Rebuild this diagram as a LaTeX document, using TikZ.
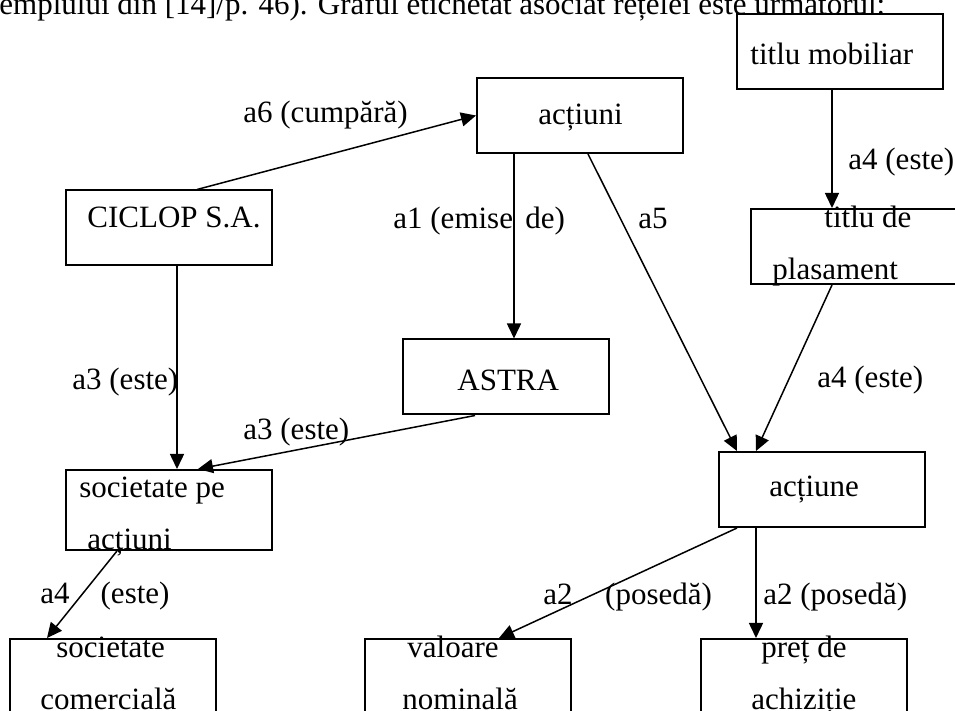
\documentclass[tikz,border=0pt]{standalone}
\usepackage{fontspec}
\setmainfont{Liberation Serif}
\usetikzlibrary{arrows.meta,calc}

\begin{document}
\begin{tikzpicture}[x=0.5pt,y=-0.5pt,
  box/.style={draw=black,line width=1pt,minimum width=103pt,minimum height=37.5pt,inner sep=0pt},
  txt/.style={anchor=base west,inner sep=0pt,font=\fontsize{15.5}{18}\selectfont},
  arc/.style={draw=black,line width=0.75pt,-{Triangle[length=7.5pt,width=7pt]}}]
\useasboundingbox (0,0) rectangle (955,711);
\clip (0,0) rectangle (955,711);
\node[txt] (antet) at (-1,15) {emplului din [14]/p. 46). Graful etichetat asociat rețelei este următorul:};
% casete
\node[box] (mob) at (840,51.5) {};
\node[box] (actiuni) at (580,115.5) {};
\node[box] (ciclop) at (169,228) {};
\node[box] (plas) at (854,246.5) {};
\node[box] (astra) at (506,377) {};
\node[box] (actiune) at (822,489.5) {};
\node[box,minimum height=40pt] (spa) at (169,510) {};
\node[box] (sc) at (113,676.5) {};
\node[box] (vn) at (468,676.5) {};
\node[box] (pa) at (804,676.5) {};
% texte din casete
\node[txt] (tmob) at (750,65) {titlu mobiliar};
\node[txt] (tactiuni) at (538,125) {acțiuni};
\node[txt] (tciclop) at (87,228) {CICLOP S.A.};
\node[txt] (tplas1) at (824,228) {titlu de};
\node[txt] (tplas2) at (772,280) {plasament};
\node[txt] (tastra) at (457,391) {ASTRA};
\node[txt] (tactiune) at (769,497) {acțiune};
\node[txt] (tspa1) at (79,498) {societate pe};
\node[txt] (tspa2) at (87,550) {acțiuni};
\node[txt] (tsc1) at (56,658) {societate};
\node[txt] (tsc2) at (40,710) {comercială};
\node[txt] (tvn1) at (407,658) {valoare};
\node[txt] (tvn2) at (402,710) {nominală};
\node[txt] (tpa1) at (761,658) {preț de};
\node[txt] (tpa2) at (751,710) {achiziție};
% arce
\draw[arc] ($(ciclop.north west)+(132,0)$) -- (actiuni.west);
\draw[arc] ($(actiuni.south west)+(38,0)$) -- ($(astra.north west)+(112,0)$);
\draw[arc] ($(actiuni.south west)+(112,0)$) -- ($(actiune.north west)+(19,0)$);
\draw[arc] ($(mob.south west)+(96,0)$) -- ($(plas.north west)+(82,0)$);
\draw[arc] ($(plas.south west)+(82,0)$) -- ($(actiune.north west)+(38,0)$);
\draw[arc] ($(ciclop.south west)+(112,0)$) -- ($(spa.north west)+(112,0)$);
\draw[arc] ($(astra.south west)+(73,0)$) -- ($(spa.north west)+(133,0)$);
\draw[arc] ($(spa.south west)+(52,0)$) -- ($(sc.north west)+(38,0)$);
\draw[arc] ($(actiune.south west)+(19,0)$) -- ($(vn.north west)+(135,0)$);
\draw[arc] ($(actiune.south west)+(38,0)$) -- ($(pa.north west)+(56,0)$);
% etichete
\node[txt] (l6) at (243,123) {a6 (cumpără)};
\node[txt] (l1) at (393,229) {a1 (emise\hspace{0.4em}de)};
\node[txt] (l5) at (638,229) {a5};
\node[txt] (l4a) at (848,170) {a4 (este)};
\node[txt] (l4b) at (817,388) {a4 (este)};
\node[txt] (l3a) at (72,390) {a3 (este)};
\node[txt] (l3b) at (243,440) {a3 (este)};
\node[txt] (l4c) at (40,604) {a4\hspace{1em}(este)};
\node[txt] (l2a) at (543,605) {a2\hspace{1.05em}(posedă)};
\node[txt] (l2b) at (763,605) {a2 (posedă)};
\end{tikzpicture}
\end{document}
